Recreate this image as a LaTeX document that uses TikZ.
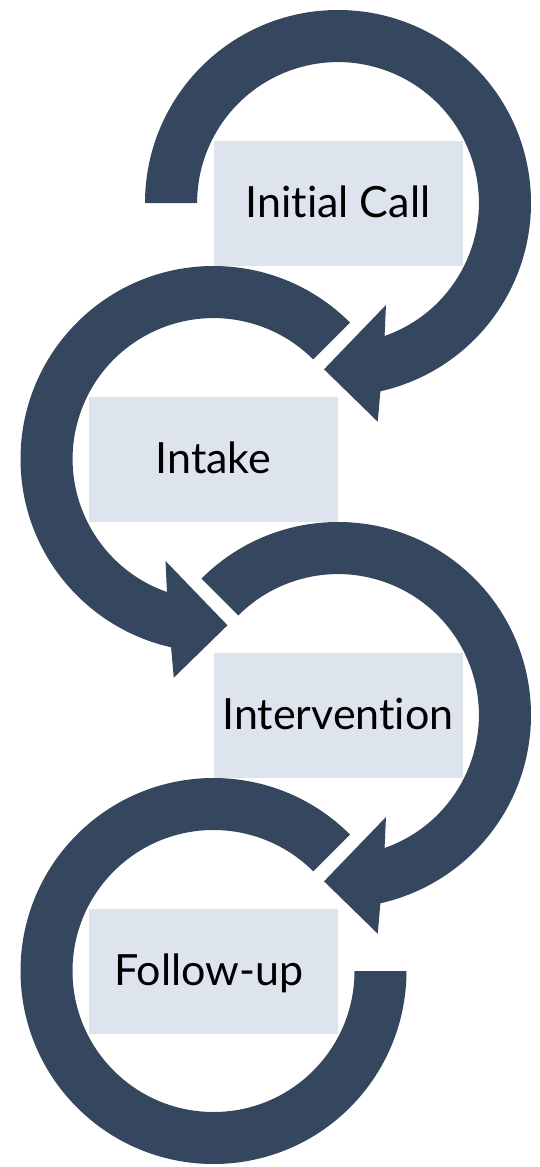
\documentclass[tikz,border=0pt]{standalone}
\usepackage{fontspec}
\newfontfamily\stagefont[Ligatures=NoCommon]{Lato}
\definecolor{ringblue}{HTML}{34475E}
\definecolor{stagegrey}{HTML}{DEE4ED}
\begin{document}
\begin{tikzpicture}[x=1pt,y=1pt,
ring/.style={fill=ringblue},
stage/.style={fill=stagegrey,minimum width=249pt,minimum height=125pt,inner sep=0pt,
  text height=28pt,text depth=0pt,font=\stagefont\fontsize{43}{50}\selectfont},
% thick ring with its head near the bottom, starting at angle #1
pics/headring/.style={code={
  \fill[ring] (#1:193) arc[start angle=#1,end angle=-77.3,radius=193]
    -- (-79.7:222.3) -- (-94.8:166.9) -- (-64.8:112.7) -- (-70.7:140.9)
    arc[start angle=-70.7,end angle=#1,radius=140.9] -- cycle;}},
% last ring, open on one side only
pics/openring/.style={code={
  \fill[ring] (#1:193) arc[start angle=#1,end angle=-180,radius=193]
    -- (-180:141) arc[start angle=-180,end angle=#1,radius=141] -- cycle;}}]
\useasboundingbox (0,0) rectangle (539,-1167);
\coordinate (c1) at (338,-203);
\coordinate (c2) at (213.5,-459);
\coordinate (c3) at (338,-715);
\coordinate (c4) at (213.5,-971);
\pic at (c1) {headring=180};
\pic[xscale=-1] at (c2) {headring=135};
\pic at (c3) {headring=135};
\pic[xscale=-1] at (c4) {openring=135};
\node[stage] (call) at (c1) {Initial Call};
\node[stage] (intake) at (c2) {Intake};
\node[stage] (interv) at (c3) {Intervention};
\node[stage,text width=249pt,align=center] (follow) at (c4) {\hspace*{-9pt}Follow-up};
\end{tikzpicture}
\end{document}
